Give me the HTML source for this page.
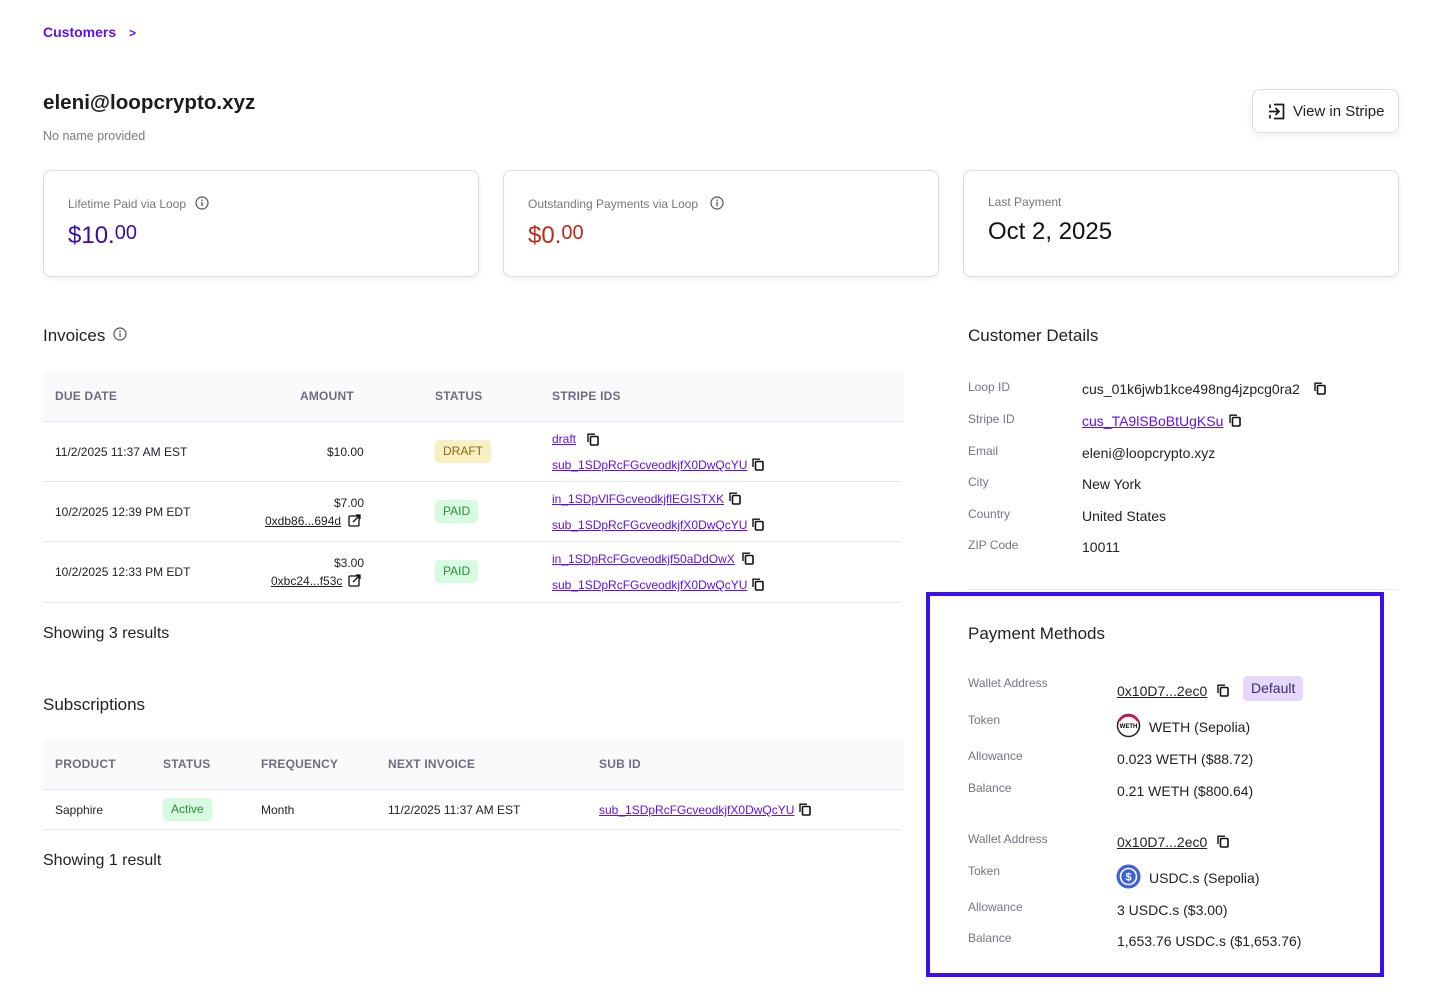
<!DOCTYPE html>
<html><head><meta charset="utf-8">
<style>
*{margin:0;padding:0;box-sizing:border-box}
body{width:1438px;height:1002px;background:#fff;font-family:"Liberation Sans",sans-serif;color:#1f1f24;position:relative;overflow:hidden}
.t{position:absolute;white-space:nowrap;line-height:1}
.card{position:absolute;top:170px;height:107px;width:436px;border:1px solid #dedbe8;border-radius:8px;box-shadow:0 2px 6px rgba(0,0,0,0.06);background:#fff}
.hd{color:#6f6c80;font-size:12px;font-weight:bold;letter-spacing:.2px}
.lk{color:#5d12e8;text-decoration:underline;font-size:12px}
.badge{position:absolute;border-radius:4px;font-size:12px;line-height:22px;height:23px;padding:0 8px}
.line{position:absolute;height:1px;background:#e8e8ec}
.cp{position:absolute;width:12px;height:13px}
.dl{color:#77747f;font-size:12px}
.dv{font-size:14px;color:#222}
</style></head><body>
<svg width="0" height="0" style="position:absolute"><defs>
<symbol id="cp" viewBox="0 0 12 13"><path d="M1 9V1.2H8" fill="none" stroke="#111" stroke-width="1.4"/><rect x="3.5" y="3.5" width="7.5" height="8.5" rx="1" fill="none" stroke="#111" stroke-width="1.6"/></symbol>
<symbol id="info" viewBox="0 0 14 14"><circle cx="7" cy="7" r="6" fill="none" stroke="#555" stroke-width="1.2"/><rect x="6.4" y="6" width="1.3" height="4" fill="#555"/><circle cx="7" cy="4.2" r=".8" fill="#555"/></symbol>
<symbol id="ext" viewBox="0 0 13 13"><rect x="1" y="2" width="10" height="10" rx="1" fill="none" stroke="#111" stroke-width="1.3"/><path d="M5 8L12 1M8 1h4v4" fill="none" stroke="#111" stroke-width="1.3"/></symbol>
</defs></svg>

<div class="t" style="left:43px;top:25px;font-size:14px;font-weight:bold;color:#5d12e8">Customers <span style="margin-left:9px;font-size:12px">&gt;</span></div>
<div class="t" style="left:43px;top:93px;font-size:20.6px;font-weight:bold;color:#1c1c1f">eleni@loopcrypto.xyz</div>
<div class="t" style="left:43px;top:130px;font-size:12.5px;color:#7b7b85">No name provided</div>

<div style="position:absolute;left:1252px;top:89px;width:147px;height:44px;border:1px solid #dedbe8;border-radius:8px;box-shadow:0 3px 8px rgba(0,0,0,0.07);background:#fff"></div>
<svg style="position:absolute;left:1268px;top:103px" width="18" height="17" viewBox="0 0 18 17"><path d="M6 1.5H15.5V15.5H6M1 8.5H11M7.5 5L11 8.5L7.5 12" fill="none" stroke="#1a1a1a" stroke-width="1.7"/><path d="M2 1.5V5M2 12V15.5" stroke="#1a1a1a" stroke-width="1.7"/></svg>
<div class="t" style="left:1293px;top:104px;font-size:15px;color:#222">View in Stripe</div>

<div class="card" style="left:43px"></div>
<div class="t" style="left:68px;top:198px;font-size:12px;color:#777">Lifetime Paid via Loop</div>
<svg style="position:absolute;left:195px;top:196px" width="14" height="14"><use href="#info"/></svg>
<div class="t" style="left:68px;top:223px;font-size:24px;color:#3a0ca3">$10.<span style="font-size:20px;vertical-align:4px">00</span></div>

<div class="card" style="left:503px"></div>
<div class="t" style="left:528px;top:198px;font-size:12px;color:#777">Outstanding Payments via Loop</div>
<svg style="position:absolute;left:710px;top:196px" width="14" height="14"><use href="#info"/></svg>
<div class="t" style="left:528px;top:223px;font-size:24px;color:#c0281a">$0.<span style="font-size:20px;vertical-align:4px">00</span></div>

<div class="card" style="left:963px"></div>
<div class="t" style="left:988px;top:196px;font-size:12px;color:#777">Last Payment</div>
<div class="t" style="left:988px;top:220px;font-size:24px;color:#111">Oct 2, 2025</div>

<div class="t" style="left:43px;top:327px;font-size:17px;color:#222">Invoices</div>
<svg style="position:absolute;left:113px;top:327px" width="14" height="14"><use href="#info"/></svg>
<div style="position:absolute;left:43px;top:372px;width:861px;height:49px;background:#fafafd"></div>
<div class="line" style="left:43px;top:421px;width:861px"></div>
<div class="t hd" style="left:55px;top:390px">DUE DATE</div>
<div class="t hd" style="left:300px;top:390px">AMOUNT</div>
<div class="t hd" style="left:435px;top:390px">STATUS</div>
<div class="t hd" style="left:552px;top:390px">STRIPE IDS</div>

<div class="t" style="left:55px;top:446px;font-size:12px">11/2/2025 11:37 AM EST</div>
<div class="t" style="left:327px;top:446px;font-size:12px">$10.00</div>
<div class="badge" style="left:435px;top:440px;background:#f8f0c2;color:#8a6a12">DRAFT</div>
<div class="t lk" style="left:552px;top:433px">draft</div><svg class="cp" style="left:587px;top:433px"><use href="#cp"/></svg>
<div class="t lk" style="left:552px;top:459px">sub_1SDpRcFGcveodkjfX0DwQcYU</div><svg class="cp" style="left:752px;top:458px"><use href="#cp"/></svg>
<div class="line" style="left:43px;top:481px;width:858px"></div>

<div class="t" style="left:55px;top:506px;font-size:12px">10/2/2025 12:39 PM EDT</div>
<div class="t" style="left:334px;top:497px;font-size:12px">$7.00</div>
<div class="t" style="left:265px;top:515px;font-size:12px;text-decoration:underline">0xdb86...694d</div><svg style="position:absolute;left:348px;top:514px" width="13" height="13"><use href="#ext"/></svg>
<div class="badge" style="left:435px;top:500px;background:#d7fbe0;color:#2f8a3c">PAID</div>
<div class="t lk" style="left:552px;top:493px">in_1SDpVlFGcveodkjflEGISTXK</div><svg class="cp" style="left:729px;top:492px"><use href="#cp"/></svg>
<div class="t lk" style="left:552px;top:519px">sub_1SDpRcFGcveodkjfX0DwQcYU</div><svg class="cp" style="left:752px;top:518px"><use href="#cp"/></svg>
<div class="line" style="left:43px;top:541px;width:858px"></div>

<div class="t" style="left:55px;top:566px;font-size:12px">10/2/2025 12:33 PM EDT</div>
<div class="t" style="left:334px;top:557px;font-size:12px">$3.00</div>
<div class="t" style="left:271px;top:575px;font-size:12px;text-decoration:underline">0xbc24...f53c</div><svg style="position:absolute;left:348px;top:574px" width="13" height="13"><use href="#ext"/></svg>
<div class="badge" style="left:435px;top:560px;background:#d7fbe0;color:#2f8a3c">PAID</div>
<div class="t lk" style="left:552px;top:553px">in_1SDpRcFGcveodkjf50aDdOwX</div><svg class="cp" style="left:742px;top:552px"><use href="#cp"/></svg>
<div class="t lk" style="left:552px;top:579px">sub_1SDpRcFGcveodkjfX0DwQcYU</div><svg class="cp" style="left:752px;top:578px"><use href="#cp"/></svg>
<div class="line" style="left:43px;top:602px;width:858px"></div>

<div class="t" style="left:43px;top:626px;font-size:16px;color:#222">Showing 3 results</div>

<div class="t" style="left:43px;top:696px;font-size:17px;color:#222">Subscriptions</div>
<div style="position:absolute;left:43px;top:740px;width:861px;height:49px;background:#fafafd"></div>
<div class="line" style="left:43px;top:789px;width:861px"></div>
<div class="t hd" style="left:55px;top:758px">PRODUCT</div>
<div class="t hd" style="left:163px;top:758px">STATUS</div>
<div class="t hd" style="left:261px;top:758px">FREQUENCY</div>
<div class="t hd" style="left:388px;top:758px">NEXT INVOICE</div>
<div class="t hd" style="left:599px;top:758px">SUB ID</div>
<div class="t" style="left:55px;top:804px;font-size:12px">Sapphire</div>
<div class="badge" style="left:163px;top:798px;background:#d7fbe0;color:#2f8a3c">Active</div>
<div class="t" style="left:261px;top:804px;font-size:12px">Month</div>
<div class="t" style="left:388px;top:804px;font-size:12px">11/2/2025 11:37 AM EST</div>
<div class="t lk" style="left:599px;top:804px">sub_1SDpRcFGcveodkjfX0DwQcYU</div><svg class="cp" style="left:799px;top:803px"><use href="#cp"/></svg>
<div class="line" style="left:43px;top:829px;width:858px"></div>
<div class="t" style="left:43px;top:853px;font-size:16px;color:#222">Showing 1 result</div>

<div class="t" style="left:968px;top:327px;font-size:17px;color:#222">Customer Details</div>
<div class="t dl" style="left:968px;top:381px">Loop ID</div>
<div class="t dv" style="left:1082px;top:382px">cus_01k6jwb1kce498ng4jzpcg0ra2</div><svg class="cp" style="left:1314px;top:382px"><use href="#cp"/></svg>
<div class="t dl" style="left:968px;top:413px">Stripe ID</div>
<div class="t dv" style="left:1082px;top:414px;color:#5d12e8;text-decoration:underline">cus_TA9lSBoBtUgKSu</div><svg class="cp" style="left:1229px;top:414px"><use href="#cp"/></svg>
<div class="t dl" style="left:968px;top:445px">Email</div>
<div class="t dv" style="left:1082px;top:446px">eleni@loopcrypto.xyz</div>
<div class="t dl" style="left:968px;top:476px">City</div>
<div class="t dv" style="left:1082px;top:477px">New York</div>
<div class="t dl" style="left:968px;top:508px">Country</div>
<div class="t dv" style="left:1082px;top:509px">United States</div>
<div class="t dl" style="left:968px;top:539px">ZIP Code</div>
<div class="t dv" style="left:1082px;top:540px">10011</div>
<div class="line" style="left:968px;top:589px;width:430px"></div>

<div style="position:absolute;left:926px;top:592px;width:458px;height:385px;border:4px solid #3d0ff0"></div>
<div class="t" style="left:968px;top:625px;font-size:17px;color:#222">Payment Methods</div>
<div class="t dl" style="left:968px;top:677px">Wallet Address</div>
<div class="t dv" style="left:1117px;top:684px;text-decoration:underline">0x10D7...2ec0</div><svg class="cp" style="left:1217px;top:684px"><use href="#cp"/></svg>
<div class="badge" style="left:1243px;top:676px;background:#e6d8fb;color:#3a2d6a;font-size:14px;height:25px;line-height:25px">Default</div>
<div class="t dl" style="left:968px;top:714px">Token</div>
<svg style="position:absolute;left:1116px;top:713px" width="25" height="25" viewBox="0 0 25 25"><circle cx="12.5" cy="12.5" r="11" fill="#fff" stroke="#222" stroke-width="1.5"/><path d="M3 8A11 11 0 0 1 22 8" fill="none" stroke="#d0145a" stroke-width="2.5"/><text x="12.5" y="15" font-size="6" text-anchor="middle" font-family="Liberation Sans" font-weight="bold">WETH</text></svg>
<div class="t dv" style="left:1149px;top:720px">WETH (Sepolia)</div>
<div class="t dl" style="left:968px;top:750px">Allowance</div>
<div class="t dv" style="left:1117px;top:752px">0.023 WETH ($88.72)</div>
<div class="t dl" style="left:968px;top:782px">Balance</div>
<div class="t dv" style="left:1117px;top:784px">0.21 WETH ($800.64)</div>

<div class="t dl" style="left:968px;top:833px">Wallet Address</div>
<div class="t dv" style="left:1117px;top:835px;text-decoration:underline">0x10D7...2ec0</div><svg class="cp" style="left:1217px;top:835px"><use href="#cp"/></svg>
<div class="t dl" style="left:968px;top:865px">Token</div>
<svg style="position:absolute;left:1116px;top:864px" width="25" height="25" viewBox="0 0 25 25"><circle cx="12.5" cy="12.5" r="12" fill="#3e62d6"/><circle cx="12.5" cy="12.5" r="8" fill="none" stroke="#fff" stroke-width="1.6"/><text x="12.5" y="16.5" font-size="11" fill="#fff" text-anchor="middle" font-family="Liberation Sans" font-weight="bold">$</text></svg>
<div class="t dv" style="left:1149px;top:871px">USDC.s (Sepolia)</div>
<div class="t dl" style="left:968px;top:901px">Allowance</div>
<div class="t dv" style="left:1117px;top:903px">3 USDC.s ($3.00)</div>
<div class="t dl" style="left:968px;top:932px">Balance</div>
<div class="t dv" style="left:1117px;top:934px">1,653.76 USDC.s ($1,653.76)</div>
</body></html>
